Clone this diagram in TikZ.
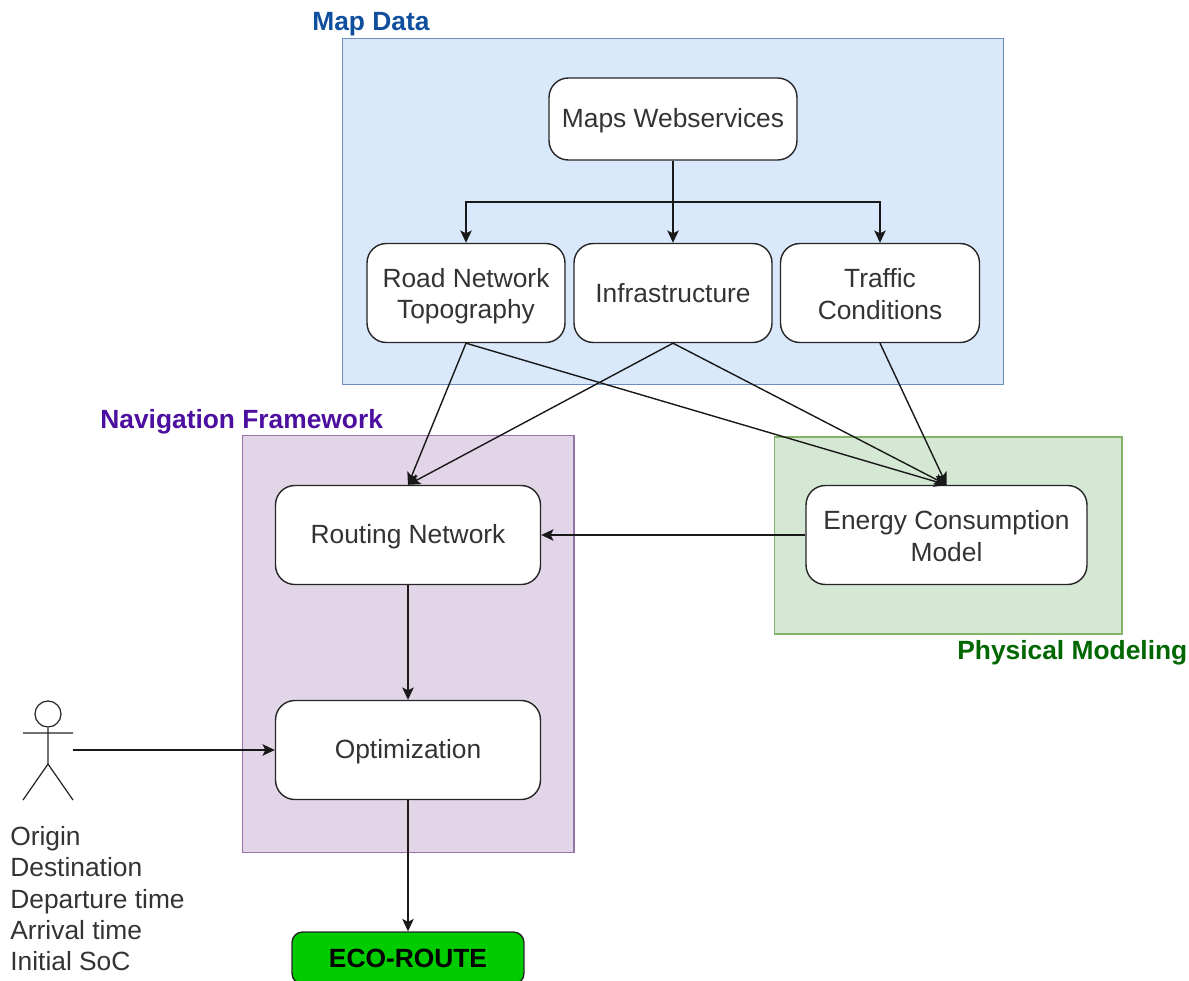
\documentclass[tikz,border=0pt]{standalone}
\usepackage{fontspec}
\setmainfont{Liberation Sans}
\usetikzlibrary{arrows.meta, positioning}

\definecolor{mapfill}{HTML}{DAE8FC}
\definecolor{mapline}{HTML}{6C8EBF}
\definecolor{mapText}{HTML}{0F4F9E}
\definecolor{navfill}{HTML}{E1D5E7}
\definecolor{navline}{HTML}{9673A6}
\definecolor{navText}{HTML}{4C0FA0}
\definecolor{physfill}{HTML}{D5E8D4}
\definecolor{physline}{HTML}{82B366}
\definecolor{physText}{HTML}{006600}
\definecolor{routefill}{HTML}{00CC00}
\definecolor{textgray}{HTML}{333333}

\newcommand{\firstline}{\rule{0pt}{14.2pt}}

\tikzset{
	region/.style={draw, rectangle, line width=0.6pt, minimum width=#1, inner sep=0pt},
	block/.style={draw=black!85, rectangle, rounded corners=11pt, fill=white, line width=0.8pt,
		align=center, text=textgray, inner sep=0pt,
		font=\fontsize{15}{17.8}\selectfont,
		execute at begin node={\rule{0pt}{13pt}},
		execute at end node={\rule[-2.2pt]{0pt}{2.2pt}}},
	title/.style={font=\fontsize{15}{17}\selectfont\bfseries, inner sep=0pt, anchor=west},
	flow/.style={line width=0.8pt, -{Stealth[length=7pt, width=6.5pt, inset=1.6pt]}, black!90}
}

\begin{document}
\begin{tikzpicture}[x=0.02cm, y=-0.02cm]
	\useasboundingbox (0,0) rectangle (1189,980);

	% groups
	\node (mapdata) at (673,211.5) [region=13.24cm, minimum height=6.94cm, draw=mapline, fill=mapfill] {};
	\node (navframe) at (408,644) [region=6.64cm, minimum height=8.36cm, draw=navline, fill=navfill] {};
	\node (physmodel) at (948,535.5) [region=6.96cm, minimum height=3.94cm, draw=physline, fill=physfill] {};

	\node (maptitle) at (312,24) [title, text=mapText] {Map Data};
	\node (navtitle) at (100,422) [title, text=navText] {Navigation Framework};
	\node (phystitle) at (957,653) [title, text=physText] {Physical Modeling};

	% blocks
	\node (maps) at (673,119) [block, minimum width=4.96cm, minimum height=1.64cm] {Maps Webservices};
	\node (road) at (466,293) [block, minimum width=3.96cm, minimum height=1.98cm] {\firstline Road Network\\Topography};
	\node (infra) at (673,293) [block, minimum width=3.96cm, minimum height=1.98cm] {Infrastructure};
	\node (traffic) at (880,293) [block, minimum width=3.98cm, minimum height=1.98cm] {\firstline Traffic\\Conditions};
	\node (routing) at (408,535) [block, minimum width=5.3cm, minimum height=1.98cm] {Routing Network};
	\node (optim) at (408,750) [block, minimum width=5.3cm, minimum height=1.98cm] {Optimization};
	\node (energy) at (946.5,535) [block, minimum width=5.62cm, minimum height=1.98cm] {\firstline Energy Consumption\\Model};
	\node (ecoroute) at (408,958) [draw=black!85, rectangle, rounded corners=6pt, line width=0.8pt, fill=routefill,
		minimum width=4.64cm, minimum height=1.04cm, inner sep=0pt,
		font=\fontsize{15}{17}\selectfont\bfseries] {ECO-ROUTE};

	% user
	\node (head) at (48,714) [draw=black!85, circle, line width=0.7pt, minimum size=0.52cm, inner sep=0pt] {};
	\coordinate (hip) at (48,764);
	\coordinate (armL) at (23,733);
	\coordinate (armR) at (73,733);
	\coordinate (footL) at (23,800);
	\coordinate (footR) at (73,800);
	\coordinate (userout) at (73,750);
	\draw [line width=0.7pt, black!85] (head.south) -- (hip) (armL) -- (armR) (footL) -- (hip) -- (footR);
	\node (inputs) at (10,826) [anchor=north west, inner sep=0pt, align=left, text=textgray,
		font=\fontsize{15}{17.8}\selectfont] {Origin\\Destination\\Departure time\\Arrival time\\Initial SoC};

	% connections
	\coordinate (split) at (673,202);
	\draw [line width=0.8pt, black!90] (maps.south) -- (split);
	\draw [flow] (split) -- (infra.north);
	\draw [flow] (split) -| (road.north);
	\draw [flow] (split) -| (traffic.north);
	\draw [flow] (road.south) -- (routing.north);
	\draw [flow] (road.south) -- (energy.north);
	\draw [flow] (infra.south) -- (routing.north);
	\draw [flow] (infra.south) -- (energy.north);
	\draw [flow] (traffic.south) -- (energy.north);
	\draw [flow] (energy.west) -- (routing.east);
	\draw [flow] (routing.south) -- (optim.north);
	\draw [flow] (userout) -- (optim.west);
	\draw [flow] (optim.south) -- (ecoroute.north);
\end{tikzpicture}
\end{document}
